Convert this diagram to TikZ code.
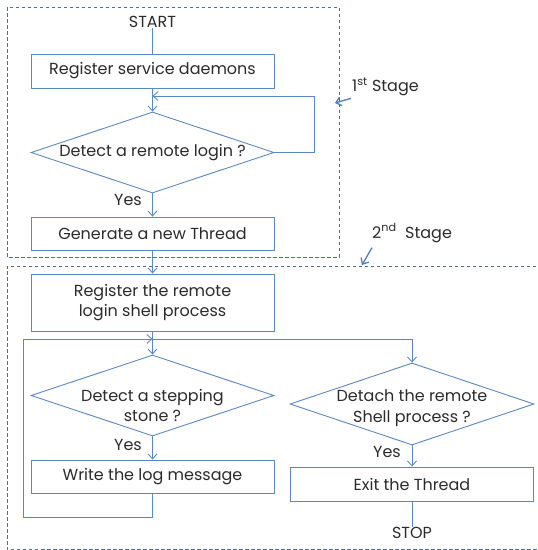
\documentclass[tikz,border=0pt]{standalone}
\usepackage{fontspec}
\setmainfont{Poppins}
\usetikzlibrary{shapes.geometric,arrows.meta}
\definecolor{flow}{HTML}{5B88C4}
\definecolor{stagec}{HTML}{4C6F99}
\definecolor{stagear}{HTML}{4F7FC0}
\definecolor{txt}{HTML}{2B2B2B}
\tikzset{
  box/.style={draw=flow, line width=0.9pt, rectangle, inner sep=0pt, text=txt, align=center, font=\fontsize{16}{20.5}\selectfont},
  dia/.style={draw=flow, line width=0.9pt, diamond, aspect=3, inner sep=0pt},
  lbl/.style={text=txt, align=center, font=\fontsize{16}{20.5}\selectfont, inner sep=0pt},
  conn/.style={draw=flow, line width=0.9pt},
  arr/.style={conn, -{Straight Barb[length=5pt,width=9pt,line width=0.9pt]}},
  stagebox/.style={draw=stagec, line width=0.9pt, dash pattern=on 3.5pt off 2.5pt},
  stagearrow/.style={draw=stagear, line width=1.3pt, -{Straight Barb[length=5pt,width=9pt,line width=1.3pt]}}
}
\begin{document}
\begin{tikzpicture}[x=1pt,y=-1pt]
\useasboundingbox (0,0) rectangle (538,550);
% stage boxes
\draw[stagebox] (7,7) rectangle (339,257);
\draw[stagebox] (548,266) -- (7,266) -- (7,549) -- (548,549);
% stage labels
\node[lbl, anchor=west] (s1) at (352,87) {1\textsuperscript{st} Stage};
\coordinate (s1t) at (335,103);
\draw[stagearrow] (s1.south west) ++(-1,2) -- (s1t);
\node[lbl, anchor=west] (s2) at (372,233) {2\textsuperscript{nd}~~Stage};
\coordinate (s2t) at (362,265);
\draw[stagearrow] (s2.south west) ++(0,5) -- (s2t);
% stage 1
\node[lbl] (start) at (152.5,22) {START};
\node[box, minimum width=243pt, minimum height=34pt] (b1) at (152.5,71) {Register service daemons};
\node[dia, minimum width=243pt, minimum height=81pt] (d1) at (152.5,152.5) {};
\node[lbl] at (d1) {Detect a remote login ?};
\node[lbl] (y1) at (128,200) {Yes};
\node[box, minimum width=243pt, minimum height=33pt] (b3) at (152.5,233.5) {Generate a new Thread};
\coordinate (l1a) at (314,152.5);
\coordinate (l1b) at (314,96);
\coordinate (l1c) at (152.5,96);
\draw[conn] (start) -- (b1);
\draw[arr] (b1) -- (d1.north);
\draw[arr] (d1.east) -- (l1a) -- (l1b) -- (l1c);
\draw[arr] (d1.south) -- (b3);
% stage 2
\node[box, minimum width=243pt, minimum height=57pt] (b4) at (152.5,302.5) {Register the remote\\login shell process};
\node[dia, minimum width=243pt, minimum height=81pt] (d2) at (152.5,395.5) {};
\node[lbl] at ([yshift=-10pt]d2) {Detect a stepping\\stone ?};
\node[lbl] (y2) at (128,445) {Yes};
\node[box, minimum width=243pt, minimum height=33pt] (b5) at (152.5,476.5) {Write the log message};
\node[dia, minimum width=244pt, minimum height=82pt] (d3) at (412,404) {};
\node[lbl] at ([yshift=-4pt]d3) {Detach the remote\\Shell process ?};
\node[lbl] (y3) at (387,452) {Yes};
\node[box, minimum width=243pt, minimum height=34pt] (b6) at (412,484) {Exit the Thread};
\node[lbl] (stop) at (412,533) {STOP};
\draw[arr] (b3) -- (b4);
\draw[arr] (b4) -- (d2.north);
\draw[arr] (d2.south) -- (b5);
\coordinate (l2a) at (152.5,517);
\coordinate (l2b) at (23,517);
\coordinate (l2c) at (23,339);
\coordinate (l2d) at (152.5,339);
\coordinate (l2e) at (412,339);
\draw[arr] (b5) -- (l2a) -- (l2b) -- (l2c) -- (l2d);
\draw[arr] (l2d) -- (l2e) -- (d3.north);
\draw[arr] (d3.south) -- (b6);
\draw[conn] (b6) -- (stop);
\end{tikzpicture}
\end{document}
